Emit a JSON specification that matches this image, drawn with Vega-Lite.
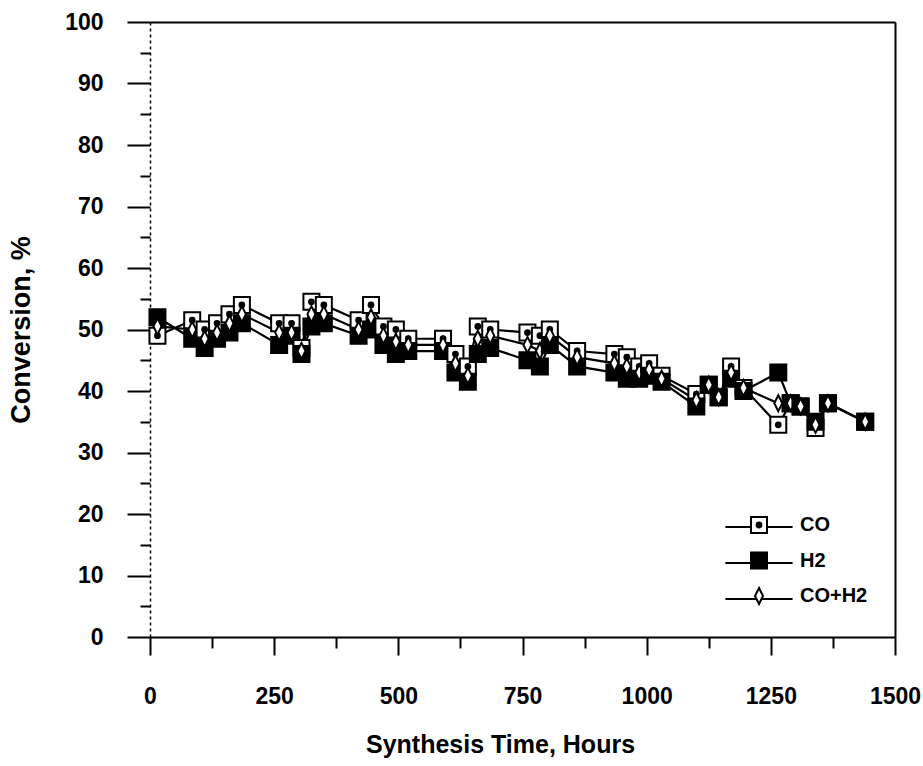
{
  "$schema": "https://vega.github.io/schema/vega-lite/v6.json",
  "autosize": "none",
  "width": 745,
  "height": 615,
  "padding": {"left": 150, "top": 22, "right": 28, "bottom": 129},
  "background": "white",
  "config": {
    "view": {"stroke": null},
    "font": "Liberation Sans",
    "axis": {"labelFont": "Liberation Sans", "titleFont": "Liberation Sans", "labelFontWeight": "bold", "titleFontWeight": "bold", "labelColor": "black", "titleColor": "black", "domainColor": "black", "tickColor": "black", "grid": false}
  },
  "data": {"values": [
    {"t": 15, "series": "CO", "v": 49}, {"t": 15, "series": "H2", "v": 52}, {"t": 15, "series": "CO+H2", "v": 50.5},
    {"t": 85, "series": "CO", "v": 51.5}, {"t": 85, "series": "H2", "v": 48.5}, {"t": 85, "series": "CO+H2", "v": 50},
    {"t": 110, "series": "CO", "v": 50}, {"t": 110, "series": "H2", "v": 47}, {"t": 110, "series": "CO+H2", "v": 48.5},
    {"t": 135, "series": "CO", "v": 51}, {"t": 135, "series": "H2", "v": 48.5}, {"t": 135, "series": "CO+H2", "v": 49.5},
    {"t": 160, "series": "CO", "v": 52.5}, {"t": 160, "series": "H2", "v": 49.5}, {"t": 160, "series": "CO+H2", "v": 51},
    {"t": 185, "series": "CO", "v": 54}, {"t": 185, "series": "H2", "v": 51}, {"t": 185, "series": "CO+H2", "v": 52.5},
    {"t": 260, "series": "CO", "v": 51}, {"t": 260, "series": "H2", "v": 47.5}, {"t": 260, "series": "CO+H2", "v": 49.5},
    {"t": 285, "series": "CO", "v": 51}, {"t": 285, "series": "H2", "v": 49}, {"t": 285, "series": "CO+H2", "v": 49.5},
    {"t": 305, "series": "CO", "v": 47}, {"t": 305, "series": "H2", "v": 46}, {"t": 305, "series": "CO+H2", "v": 46.5},
    {"t": 325, "series": "CO", "v": 54.5}, {"t": 325, "series": "H2", "v": 50.5}, {"t": 325, "series": "CO+H2", "v": 52.5},
    {"t": 350, "series": "CO", "v": 54}, {"t": 350, "series": "H2", "v": 51}, {"t": 350, "series": "CO+H2", "v": 52.5},
    {"t": 420, "series": "CO", "v": 51.5}, {"t": 420, "series": "H2", "v": 49}, {"t": 420, "series": "CO+H2", "v": 50},
    {"t": 445, "series": "CO", "v": 54}, {"t": 445, "series": "H2", "v": 50}, {"t": 445, "series": "CO+H2", "v": 52},
    {"t": 470, "series": "CO", "v": 50.5}, {"t": 470, "series": "H2", "v": 47.5}, {"t": 470, "series": "CO+H2", "v": 49},
    {"t": 495, "series": "CO", "v": 50}, {"t": 495, "series": "H2", "v": 46}, {"t": 495, "series": "CO+H2", "v": 48},
    {"t": 520, "series": "CO", "v": 48.5}, {"t": 520, "series": "H2", "v": 46.5}, {"t": 520, "series": "CO+H2", "v": 47.5},
    {"t": 590, "series": "CO", "v": 48.5}, {"t": 590, "series": "H2", "v": 46.5}, {"t": 590, "series": "CO+H2", "v": 47.5},
    {"t": 615, "series": "CO", "v": 46}, {"t": 615, "series": "H2", "v": 43}, {"t": 615, "series": "CO+H2", "v": 44.5},
    {"t": 640, "series": "CO", "v": 44}, {"t": 640, "series": "H2", "v": 41.5}, {"t": 640, "series": "CO+H2", "v": 42.5},
    {"t": 660, "series": "CO", "v": 50.5}, {"t": 660, "series": "H2", "v": 46}, {"t": 660, "series": "CO+H2", "v": 48.5},
    {"t": 685, "series": "CO", "v": 50}, {"t": 685, "series": "H2", "v": 47}, {"t": 685, "series": "CO+H2", "v": 49},
    {"t": 760, "series": "CO", "v": 49.5}, {"t": 760, "series": "H2", "v": 45}, {"t": 760, "series": "CO+H2", "v": 47.5},
    {"t": 785, "series": "CO", "v": 49}, {"t": 785, "series": "H2", "v": 44}, {"t": 785, "series": "CO+H2", "v": 46.5},
    {"t": 805, "series": "CO", "v": 50}, {"t": 805, "series": "H2", "v": 47.5}, {"t": 805, "series": "CO+H2", "v": 49},
    {"t": 860, "series": "CO", "v": 46.5}, {"t": 860, "series": "H2", "v": 44}, {"t": 860, "series": "CO+H2", "v": 45.5},
    {"t": 935, "series": "CO", "v": 46}, {"t": 935, "series": "H2", "v": 43}, {"t": 935, "series": "CO+H2", "v": 44.5},
    {"t": 960, "series": "CO", "v": 45.5}, {"t": 960, "series": "H2", "v": 42}, {"t": 960, "series": "CO+H2", "v": 44},
    {"t": 985, "series": "CO", "v": 44}, {"t": 985, "series": "H2", "v": 42}, {"t": 985, "series": "CO+H2", "v": 43},
    {"t": 1005, "series": "CO", "v": 44.5}, {"t": 1005, "series": "H2", "v": 42.5}, {"t": 1005, "series": "CO+H2", "v": 43.5},
    {"t": 1030, "series": "CO", "v": 42.5}, {"t": 1030, "series": "H2", "v": 41.5}, {"t": 1030, "series": "CO+H2", "v": 42},
    {"t": 1100, "series": "CO", "v": 39.5}, {"t": 1100, "series": "H2", "v": 37.5}, {"t": 1100, "series": "CO+H2", "v": 38.5},
    {"t": 1125, "series": "CO", "v": 41}, {"t": 1125, "series": "H2", "v": 41}, {"t": 1125, "series": "CO+H2", "v": 41},
    {"t": 1145, "series": "CO", "v": 39}, {"t": 1145, "series": "H2", "v": 39}, {"t": 1145, "series": "CO+H2", "v": 39},
    {"t": 1170, "series": "CO", "v": 44}, {"t": 1170, "series": "H2", "v": 42}, {"t": 1170, "series": "CO+H2", "v": 43},
    {"t": 1195, "series": "CO", "v": 40.5}, {"t": 1195, "series": "H2", "v": 40}, {"t": 1195, "series": "CO+H2", "v": 40.5},
    {"t": 1265, "series": "CO", "v": 34.5}, {"t": 1265, "series": "H2", "v": 43}, {"t": 1265, "series": "CO+H2", "v": 38},
    {"t": 1290, "series": "CO", "v": 38}, {"t": 1290, "series": "H2", "v": 38}, {"t": 1290, "series": "CO+H2", "v": 38},
    {"t": 1310, "series": "CO", "v": 37.5}, {"t": 1310, "series": "H2", "v": 37.5}, {"t": 1310, "series": "CO+H2", "v": 37.5},
    {"t": 1340, "series": "CO", "v": 34}, {"t": 1340, "series": "H2", "v": 35}, {"t": 1340, "series": "CO+H2", "v": 34.5},
    {"t": 1365, "series": "CO", "v": 38}, {"t": 1365, "series": "H2", "v": 38}, {"t": 1365, "series": "CO+H2", "v": 38},
    {"t": 1440, "series": "CO", "v": 35}, {"t": 1440, "series": "H2", "v": 35}, {"t": 1440, "series": "CO+H2", "v": 35}
  ]},
  "resolve": {"axis": {"x": "independent", "y": "independent"}, "scale": {"stroke": "independent", "shape": "independent"}},
  "layer": [
    {
      "mark": {"type": "line", "strokeWidth": 2.2},
      "encoding": {
        "x": {"field": "t", "type": "quantitative", "scale": {"domain": [0, 1500], "nice": false, "zero": false},
          "axis": {"orient": "bottom", "values": [0, 250, 500, 750, 1000, 1250, 1500], "format": "d", "tickSize": 18, "tickWidth": 2, "domainWidth": 2,
            "labelFontSize": 23, "labelPadding": 30, "labelFlush": false, "labelOverlap": false,
            "title": "Synthesis Time, Hours", "titleFontSize": 25, "titlePadding": 24, "titleX": 350}},
        "y": {"field": "v", "type": "quantitative", "scale": {"domain": [0, 100], "nice": false, "zero": false},
          "axis": {"orient": "left", "values": [0, 10, 20, 30, 40, 50, 60, 70, 80, 90, 100], "format": "d", "tickSize": 23, "tickWidth": 2, "domainWidth": 1.5, "domainDash": [3, 3],
            "labelFontSize": 23, "labelPadding": 24, "labelFlush": false, "labelOverlap": false,
            "title": "Conversion, %", "titleFontSize": 27, "titlePadding": 29}},
        "stroke": {"field": "series", "type": "nominal", "sort": ["CO", "H2", "CO+H2"], "scale": {"range": ["black", "black", "black"]},
          "legend": {"orient": "none", "legendX": 599, "legendY": 495, "title": null, "padding": 0, "zindex": 1,
            "symbolType": "M-4.2,0L4.2,0", "symbolSize": 256, "symbolStrokeWidth": 2, "symbolFillColor": "transparent",
            "labelExpr": "''", "labelFontSize": 20, "labelFontWeight": "bold", "labelOffset": 31, "rowPadding": 16}}
      }
    },
    {
      "mark": {"type": "point", "filled": true, "fill": "white", "strokeWidth": 2, "size": 256, "opacity": 1},
      "encoding": {
        "x": {"field": "t", "type": "quantitative",
          "axis": {"orient": "bottom", "values": [125, 375, 625, 875, 1125, 1375], "tickSize": 11, "tickWidth": 2, "domain": false, "labels": false, "title": null}},
        "y": {"field": "v", "type": "quantitative",
          "axis": {"orient": "left", "values": [5, 15, 25, 35, 45, 55, 65, 75, 85, 95], "tickSize": 10, "tickWidth": 2, "domain": false, "labels": false, "title": null}},
        "stroke": {"field": "series", "type": "nominal",
          "scale": {"domain": ["CO", "H2", "CO+H2"], "range": ["black", "black", "black"]},
          "legend": {"orient": "none", "legendX": 599, "legendY": 493, "title": null, "padding": 0, "zindex": 2,
            "symbolSize": 256, "symbolStrokeWidth": 2, "symbolFillColor": "white", "symbolOpacity": 1,
            "labelFont": "Liberation Sans", "labelFontSize": 20, "labelFontWeight": "bold", "labelColor": "black", "labelOffset": 31, "rowPadding": 11.5}},
        "shape": {"field": "series", "type": "nominal",
          "scale": {"domain": ["CO", "H2", "CO+H2"], "range": [
            "M-1,-1H1V1H-1Z M-0.3,0A0.3,0.3 0 1 1 0.3,0A0.3,0.3 0 1 1 -0.3,0 M-0.1,0A0.1,0.1 0 1 1 0.1,0A0.1,0.1 0 1 1 -0.1,0",
            "M-1,-1H1V1H-1Z M-0.78,-0.78H0.78V0.78H-0.78Z M-0.56,-0.56H0.56V0.56H-0.56Z M-0.34,-0.34H0.34V0.34H-0.34Z M-0.12,-0.12H0.12V0.12H-0.12Z",
            "M0,-1L0.5,0L0,1L-0.5,0Z"]},
          "legend": {"orient": "none", "legendX": 599, "legendY": 493, "title": null, "padding": 0, "zindex": 2,
            "symbolSize": 256, "symbolStrokeWidth": 2, "symbolFillColor": "white", "symbolOpacity": 1,
            "labelFont": "Liberation Sans", "labelFontSize": 20, "labelFontWeight": "bold", "labelColor": "black", "labelOffset": 31, "rowPadding": 11.5}}
      }
    },
    {
      "mark": {"type": "point", "opacity": 0},
      "encoding": {
        "x": {"field": "t", "type": "quantitative",
          "axis": {"orient": "top", "domainWidth": 2, "ticks": false, "labels": false, "title": null}},
        "y": {"field": "v", "type": "quantitative",
          "axis": {"orient": "right", "domainWidth": 2, "ticks": false, "labels": false, "title": null}}
      }
    }
  ]
}
